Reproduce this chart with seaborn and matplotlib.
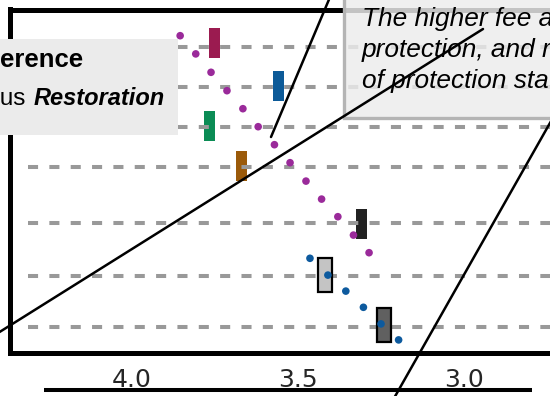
import matplotlib
matplotlib.use("Agg")
import matplotlib.pyplot as plt
from matplotlib.patches import Rectangle
from matplotlib.lines import Line2D
import seaborn as sns
import pandas as pd

# ---------------- data ----------------
row_y = [0, 1, 2, 3, 4.4, 5.73, 7.0]
bar_mid = [-0.09, 0.97, 1.98, 2.98, 4.44, 5.71, 6.965]
bar_lo = [3.768, 3.575, 3.783, 3.687, 3.325, 3.439, 3.262]
bar_hi = [3.735, 3.542, 3.750, 3.654, 3.292, 3.397, 3.221]
bar_colors = ["#9b1b50", "#0c5a98", "#0b8c55", "#9b5a0a", "#222222", "#c4c4c4", "#606060"]

purple_x = [3.855, 3.808, 3.762, 3.714, 3.666, 3.620, 3.571, 3.524, 3.476, 3.429, 3.380, 3.333, 3.286]
purple_y = [-0.275, 0.18, 0.64, 1.10, 1.55, 2.0, 2.45, 2.9, 3.36, 3.81, 4.25, 4.71, 5.15]
blue_x = [3.464, 3.410, 3.356, 3.303, 3.250, 3.197]
blue_y = [5.29, 5.71, 6.11, 6.515, 6.93, 7.33]

tick_vals = [4.0, 3.5, 3.0]
tick_labels = ["4.0", "3.5", "3.0"]

legend_title = "Difference"
legend_pre = "versus"
legend_em = "Restoration"
note_lines = ["The higher fee and benefits of",
              "protection, and reduced costs",
              "of protection status"]

# ---------------- figure ----------------
sns.set_style("white")
plt.rcParams["font.family"] = ["DejaVu Sans"]

W, H = 550, 396
fig = plt.figure(figsize=(5.5, 3.96), dpi=100)

def fx(x):
    return x / W

def fy(y):
    return 1 - y / H

ax_l, ax_r, ax_t, ax_b = 9.5, 700, 9.5, 352.5
ax = fig.add_axes([fx(ax_l), fy(ax_b), (ax_r - ax_l) / W, (ax_b - ax_t) / H])
ax.set_xlim(4.369, 2.2892)
ax.set_ylim(7.645, -0.93)

# dashed reference lines
for y in row_y:
    ax.plot([4.313, 2.3], [y, y], color="#999999", lw=2.9,
            ls=(0, (2.5, 2.8)), solid_capstyle="butt",
            dash_capstyle="butt", zorder=3)

# bars (intervals)
for i, (lo, hi, c, m) in enumerate(zip(bar_lo, bar_hi, bar_colors, bar_mid)):
    gray = i >= 5
    ax.barh(m, hi - lo, left=lo, height=0.85 if gray else 0.75,
            color=c, edgecolor="black" if gray else c,
            linewidth=1.6 if gray else 0, zorder=2 if not gray else 4)

# dots
dfp = pd.DataFrame({"x": purple_x, "y": purple_y})
dfb = pd.DataFrame({"x": blue_x, "y": blue_y})
sns.scatterplot(data=dfp, x="x", y="y", ax=ax, color="#9a2a9a", s=30,
                edgecolor="none", linewidth=0, zorder=5)
sns.scatterplot(data=dfb, x="x", y="y", ax=ax, color="#0d5a9e", s=30,
                edgecolor="none", linewidth=0, zorder=5)

ax.set_xlabel("")
ax.set_ylabel("")
ax.set_yticks([])
ax.set_xticks(tick_vals)
ax.set_xticklabels(tick_labels, fontsize=18, family="DejaVu Sans")
ax.tick_params(axis="x", length=0, pad=11)
for s in ["top", "left", "bottom", "right"]:
    ax.spines[s].set_color("black")
    ax.spines[s].set_linewidth(3.6)

# legend-like box (left)
fig.add_artist(Rectangle((fx(-10), fy(135)), 188 / W, 96 / H,
                         transform=fig.transFigure, facecolor="#ebebeb",
                         edgecolor="none", zorder=6))
fig.text(fx(83), fy(67), legend_title, ha="right", va="baseline",
         fontsize=18.5, fontweight="bold", family="Liberation Sans",
         color="black", zorder=7)
fig.text(fx(26), fy(105), legend_pre, ha="right", va="baseline",
         fontsize=17.5, family="Liberation Sans", color="black", zorder=7)
fig.text(fx(34), fy(105), legend_em, ha="left", va="baseline",
         fontsize=17, fontweight="bold", style="italic",
         family="Liberation Sans", color="black", zorder=7)

# note box (right)
fig.add_artist(Rectangle((fx(344), fy(118)), 400 / W, 140 / H,
                         transform=fig.transFigure,
                         facecolor=(0.925, 0.925, 0.925, 0.83),
                         edgecolor="#b4b4b4", linewidth=2.4, zorder=6))
for txt, yb in zip(note_lines, [26, 57, 88]):
    fig.text(fx(362), fy(yb), txt, ha="left", va="baseline",
             fontsize=18.9, style="italic", family="Liberation Sans",
             color="black", zorder=7)

# leader lines
for (x0, y0), (x1, y1) in [((-10, 338), (483, 29)),
                           ((271, 137), (333, -10)),
                           ((393, 400), (563, 100))]:
    fig.add_artist(Line2D([fx(x0), fx(x1)], [fy(y0), fy(y1)],
                          transform=fig.transFigure, color="black",
                          lw=1.8, zorder=8))

# bottom rule
fig.add_artist(Line2D([fx(44), fx(532)], [fy(390), fy(390)],
                      transform=fig.transFigure, color="black",
                      lw=2.9, solid_capstyle="butt", zorder=8))

fig.savefig("out.png", dpi=100)
